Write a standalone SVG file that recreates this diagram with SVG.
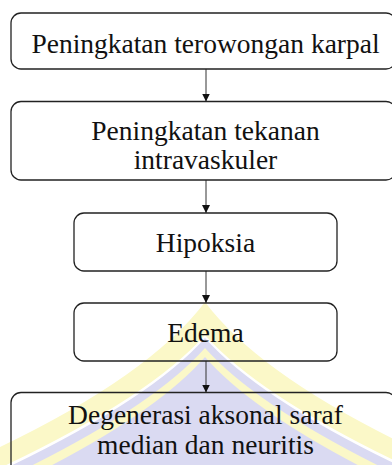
<svg xmlns="http://www.w3.org/2000/svg" width="392" height="465" viewBox="0 0 392 465">
  <style>
    .box { fill: none; stroke: #222; stroke-width: 1.3; }
    .lbl { font-family: "Liberation Serif", "Times New Roman", serif; font-size: 27.5px; fill: #111; text-anchor: middle; }
    .conn { stroke: #333; stroke-width: 1; fill: none; }
    .wy { fill: #fbf8c8; }
    .wl { fill: #dadaf2; }
  </style>
  <defs>
    <marker id="arrow" markerUnits="userSpaceOnUse" markerWidth="8" markerHeight="9" refX="8" refY="4" orient="auto">
      <path d="M0,0 L8,4 L0,8 z" fill="#111"/>
    </marker>
  </defs>
  <rect width="392" height="465" fill="#ffffff"/>
  <g id="watermark">
    <path class="wy" d="M-20,457 L0,447 Q150,375 205,302 Q260,375 410,447 L430,457 L430,520 L-20,520 z"/>
    <path fill="#ffffff" d="M-20,478 L0,468 Q150,397 205,335 Q260,397 410,468 L430,478 L430,520 L-20,520 z"/>
    <path class="wl" d="M-20,481 L0,471 Q150,400 205,338 Q260,400 410,471 L430,481 L430,520 L-20,520 z"/>
    <path class="wy" d="M-20,491 L0,481 Q150,410 205,348 Q260,410 410,481 L430,491 L430,530 L-20,530 z"/>
    <path class="wl" d="M-20,501 L0,491 Q150,420 205,357 Q260,420 410,491 L430,501 L430,540 L-20,540 z"/>
  </g>
  <g id="connectors">
    <line class="conn" x1="206" y1="69" x2="206" y2="101.5" marker-end="url(#arrow)"/>
    <line class="conn" x1="206" y1="180" x2="206" y2="213" marker-end="url(#arrow)"/>
    <line class="conn" x1="206" y1="271" x2="206" y2="303" marker-end="url(#arrow)"/>
    <line class="conn" x1="206" y1="361" x2="206" y2="392.5" marker-end="url(#arrow)"/>
  </g>
  <g id="n1">
    <rect class="box" x="11" y="13" width="385" height="56" rx="10"/>
    <text class="lbl" x="205.5" y="53">Peningkatan terowongan karpal</text>
  </g>
  <g id="n2">
    <rect class="box" x="11" y="101.5" width="385" height="78.5" rx="10"/>
    <text class="lbl" x="205.5" y="140">Peningkatan tekanan</text>
    <text class="lbl" x="205.5" y="169">intravaskuler</text>
  </g>
  <g id="n3">
    <rect class="box" x="74" y="213" width="263" height="58" rx="10"/>
    <text class="lbl" x="205.5" y="251.5">Hipoksia</text>
  </g>
  <g id="n4">
    <rect class="box" x="74" y="303" width="263" height="58" rx="10"/>
    <text class="lbl" x="205.5" y="341.5">Edema</text>
  </g>
  <g id="n5">
    <rect class="box" x="11" y="392.5" width="385" height="90" rx="10"/>
    <text class="lbl" x="205.5" y="423.5">Degenerasi aksonal saraf</text>
    <text class="lbl" x="205.5" y="453.5">median dan neuritis</text>
  </g>
</svg>
